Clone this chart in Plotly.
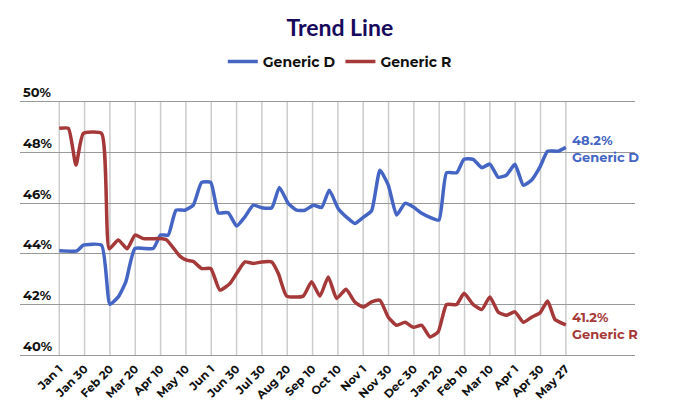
import plotly.graph_objects as go

# tick labels along the bottom (one per vertical gridline)
date_labels = ["Jan 1", "Jan 30", "Feb 20", "Mar 20", "Apr 10", "May 10", "Jun 1",
               "Jun 30", "Jul 30", "Aug 20", "Sep 10", "Oct 10", "Nov 1", "Nov 30",
               "Dec 30", "Jan 20", "Feb 10", "Mar 10", "Apr 1", "Apr 30", "May 27"]

# positions measured in label steps (0 = Jan 1, 20 = May 27)
d_pos = [0, 0.7, 0.95, 1.67, 2.0, 2.33, 2.63, 2.99, 3.71, 4.0, 4.3, 4.61, 4.96, 5.29,
         5.62, 5.98, 6.28, 6.67, 7.0, 7.33, 7.66, 7.99, 8.39, 8.69, 9.04, 9.37, 9.7,
         10.03, 10.36, 10.66, 11.01, 11.35, 11.67, 12.0, 12.33, 12.66, 12.99, 13.32,
         13.65, 13.98, 14.31, 14.64, 14.99, 15.29, 15.69, 15.98, 16.34, 16.68, 17.0,
         17.33, 17.66, 17.99, 18.32, 18.65, 18.98, 19.28, 19.7, 20.0]
generic_d = [44.12, 44.12, 44.34, 44.34, 42.01, 42.3, 42.9, 44.21, 44.21, 44.74, 44.74,
             45.72, 45.72, 45.92, 46.82, 46.82, 45.62, 45.62, 45.1, 45.46, 45.92, 45.82,
             45.82, 46.62, 45.99, 45.72, 45.72, 45.92, 45.83, 46.51, 45.79, 45.44, 45.2,
             45.44, 45.7, 47.3, 46.71, 45.53, 45.99, 45.85, 45.6, 45.44, 45.33, 47.2,
             47.2, 47.73, 47.73, 47.4, 47.54, 47.02, 47.11, 47.53, 46.71, 46.91, 47.43,
             48.05, 48.05, 48.2]

r_pos = [0, 0.36, 0.66, 0.95, 1.67, 1.97, 2.33, 2.68, 2.99, 3.32, 3.98, 4.24, 4.77, 5.03,
         5.29, 5.62, 5.98, 6.34, 6.74, 7.0, 7.33, 7.66, 7.99, 8.39, 8.65, 8.98, 9.63,
         9.96, 10.29, 10.62, 10.95, 11.32, 11.67, 12.0, 12.33, 12.66, 12.99, 13.32,
         13.65, 13.98, 14.31, 14.64, 14.96, 15.29, 15.69, 15.98, 16.34, 16.68, 17.0,
         17.33, 17.66, 17.99, 18.32, 18.65, 18.98, 19.28, 19.57, 20.0]
generic_r = [48.95, 48.95, 47.5, 48.75, 48.75, 44.2, 44.55, 44.2, 44.74, 44.6, 44.6,
             44.55, 43.9, 43.75, 43.7, 43.42, 43.42, 42.57, 42.83, 43.22, 43.68, 43.62,
             43.68, 43.68, 43.22, 42.33, 42.33, 42.9, 42.33, 43.09, 42.24, 42.6, 42.1,
             41.9, 42.1, 42.17, 41.5, 41.18, 41.3, 41.1, 41.18, 40.72, 40.92, 42.0, 42.0,
             42.44, 42.0, 41.8, 42.3, 41.7, 41.58, 41.71, 41.3, 41.5, 41.67, 42.14, 41.41,
             41.2]

y_ticks = [40, 42, 44, 46, 48, 50]

BLUE = "#4465c3"
RED = "#a53838"
FONT = "Montserrat, Lato, sans-serif"

fig = go.Figure()
fig.add_trace(go.Scatter(x=d_pos, y=generic_d, name="Generic D", mode="lines",
                         line=dict(color=BLUE, width=3.5, shape="spline", smoothing=0.5)))
fig.add_trace(go.Scatter(x=r_pos, y=generic_r, name="Generic R", mode="lines",
                         line=dict(color=RED, width=3.5, shape="spline", smoothing=0.5)))

# vertical gridlines only between the 40% and 50% lines
for i in range(len(date_labels)):
    fig.add_shape(type="line", xref="x", yref="y", x0=i, x1=i, y0=y_ticks[0], y1=y_ticks[-1],
                  line=dict(color="#cccccc", width=1.5), layer="below")

# end-of-line labels
for pos, vals, name, col in [(d_pos, generic_d, "Generic D", BLUE),
                             (r_pos, generic_r, "Generic R", RED)]:
    fig.add_annotation(x=pos[-1], y=vals[-1], text=f"{vals[-1]:.1f}%<br>{name}",
                       showarrow=False, xanchor="left", xshift=4, yshift=-1,
                       align="left", font=dict(color=col, size=13, family=FONT, weight="bold"))

# page body adds an 8px offset, so margins are trimmed on the top/left
fig.update_layout(
    width=680, height=410,
    margin=dict(l=12, r=53, t=76, b=59, autoexpand=False),
    paper_bgcolor="white", plot_bgcolor="white",
    title=dict(text="<b>Trend Line</b>", x=0.488, xanchor="center",
               yref="container", y=0.951, yanchor="middle",
               font=dict(size=23, color="#170a5c", family="Lato, sans-serif")),
    legend=dict(orientation="h", x=0.52, xanchor="center", y=1.08, yanchor="middle",
                font=dict(size=14, color="#111", family=FONT, weight="bold")),
    font=dict(family=FONT),
    showlegend=True,
)
fig.update_xaxes(range=[-1.55, 22.73], tickvals=list(range(len(date_labels))),
                 ticktext=date_labels, tickangle=-45, showgrid=False,
                 zeroline=False, showline=False, automargin=False,
                 tickfont=dict(size=11.5, color="#111", family=FONT, weight="bold"))
fig.update_yaxes(range=[39.85, 50.7], tickvals=y_ticks, ticktext=[f"{v}%" for v in y_ticks],
                 ticklabelposition="inside", ticklabelshift=-9, ticklabelstandoff=0,
                 showgrid=True, gridcolor="#999999", gridwidth=1, zeroline=False,
                 showline=False, ticks="", automargin=False,
                 tickfont=dict(size=13, color="#111", family=FONT, weight="bold"))

fig.write_html("out.html")
